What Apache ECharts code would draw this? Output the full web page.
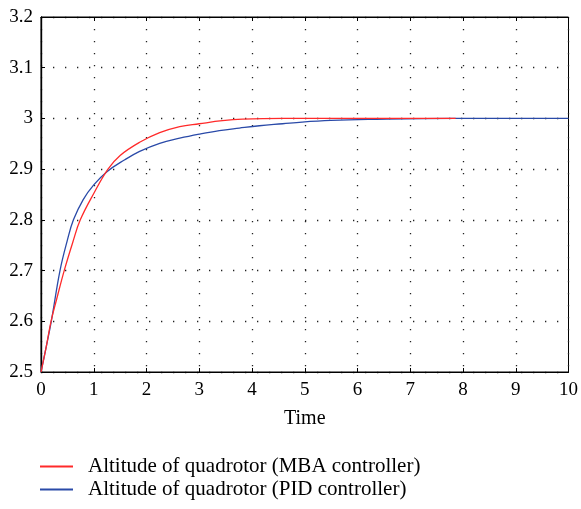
<!DOCTYPE html>
<html><head><meta charset="utf-8">
<script src="https://cdn.jsdelivr.net/npm/echarts@6/dist/echarts.min.js"></script>
<style>html,body{margin:0;padding:0;background:#fff}#c{width:581px;height:509px}</style>
</head><body><div id="c"></div>
<script>
const mbaTime = [0,0.1,0.19,0.3,0.44,0.6,0.745,1.0,1.27,1.5,1.87,2.25,2.63,3.0,3.44,3.82,4.6,6.0,7.86];
const mbaAlt  = [2.5,2.55,2.6,2.645,2.7,2.755,2.8,2.852,2.9,2.927,2.953,2.972,2.984,2.9895,2.9955,2.9985,3.0,3.0,3.0];
const pidTime = [0,0.1,0.195,0.36,0.5,0.615,0.8,1.0,1.25,1.58,1.87,2.25,2.63,3.0,3.38,3.76,4.14,4.58,4.95,5.49,6.2,7.86,10.0];
const pidAlt  = [2.5,2.55,2.6,2.7,2.76,2.8,2.84,2.869,2.895,2.918,2.935,2.951,2.961,2.969,2.976,2.981,2.9856,2.9895,2.9928,2.996,2.998,3.0,3.0];
const xTicks = [0,1,2,3,4,5,6,7,8,9,10];
const yTicks = [2.5,2.6,2.7,2.8,2.9,3,3.1,3.2];
const seriesNames = ['Altitude of quadrotor (MBA controller)','Altitude of quadrotor (PID controller)'];
const xName = 'Time';

const font = 'Liberation Serif';
const chart = echarts.init(document.getElementById('c'));
const zip = (a,b)=>a.map((v,i)=>[v,b[i]]);
const dots = {color:'#222',type:[1.3,10.7],width:1.3};
chart.setOption({
  animation:false,
  grid:{left:41,right:11,top:17,bottom:137,show:true,borderColor:'#000',borderWidth:1},
  xAxis:[{
    type:'value',min:xTicks[0],max:xTicks[xTicks.length-1],interval:1,
    name:xName,nameLocation:'middle',nameGap:37,
    nameTextStyle:{fontFamily:font,fontSize:20,color:'#000'},
    axisLine:{lineStyle:{color:'#000',width:1.2}},
    axisTick:{inside:true,length:4,lineStyle:{color:'#000'}},
    axisLabel:{fontFamily:font,fontSize:19,color:'#000',margin:9},
    splitLine:{show:true,lineStyle:dots}
  },{
    type:'value',position:'top',min:xTicks[0],max:xTicks[xTicks.length-1],interval:1,
    axisLine:{lineStyle:{color:'#000',width:1.2}},
    axisTick:{inside:true,length:4,lineStyle:{color:'#000'}},
    axisLabel:{show:false},splitLine:{show:false}
  }],
  yAxis:[{
    type:'value',min:yTicks[0],max:yTicks[yTicks.length-1],interval:0.1,
    axisLine:{show:true,lineStyle:{color:'#000',width:1.2}},
    axisTick:{show:true,inside:true,length:4,lineStyle:{color:'#000'}},
    axisLabel:{fontFamily:font,fontSize:19,color:'#000',margin:8,formatter:v=>String(+v.toFixed(1))},
    splitLine:{show:true,lineStyle:dots}
  },{
    type:'value',position:'right',min:yTicks[0],max:yTicks[yTicks.length-1],interval:0.1,
    axisLine:{show:true,lineStyle:{color:'#000',width:1.2}},
    axisTick:{show:false},axisLabel:{show:false},splitLine:{show:false}
  }],
  legend:{
    orient:'vertical',left:40,top:456,padding:0,itemGap:2,itemWidth:33,itemHeight:2,icon:'rect',
    textStyle:{fontFamily:font,fontSize:21,color:'#000',padding:[0,0,0,10]},
    data:seriesNames
  },
  series:[
    {name:seriesNames[0],type:'line',showSymbol:false,smooth:0.4,data:zip(mbaTime,mbaAlt),
     lineStyle:{color:'#ff2a2a',width:1.3},itemStyle:{color:'#ff2a2a'},z:3},
    {name:seriesNames[1],type:'line',showSymbol:false,smooth:0.4,data:zip(pidTime,pidAlt),
     lineStyle:{color:'#2a4aa8',width:1.3},itemStyle:{color:'#2a4aa8'},z:2}
  ]
});
</script></body></html>
